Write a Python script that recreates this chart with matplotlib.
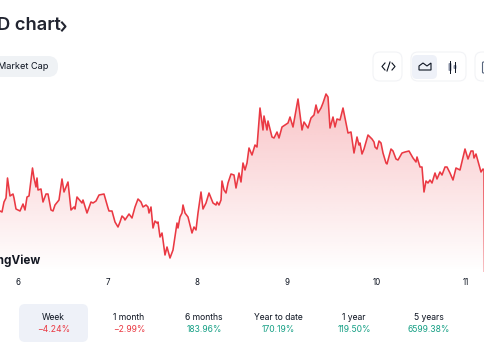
import numpy as np
import matplotlib.pyplot as plt
from matplotlib.patches import FancyBboxPatch, Polygon

plt.rcParams['font.family'] = ['Inter', 'DejaVu Sans']

# price curve: time step, price (relative to chart floor)
steps = [0, 2, 4, 6, 7.5, 10, 13, 14, 16, 20, 23, 25, 27, 29, 32.5, 34, 36, 37, 38, 41, 43, 46, 48, 51, 53, 55, 59,
         62, 64, 68, 71, 74, 75, 77, 82, 83, 86, 87, 91, 93, 96, 99, 104, 108, 109, 112, 115, 118, 120, 122, 124,
         125, 129, 132, 135, 138, 141, 143, 146, 148, 149, 151, 153, 155, 157, 158, 160, 162, 163, 165, 167, 170,
         173, 177, 178, 180, 182, 183, 185, 188, 192, 194, 196, 198, 201, 203, 206, 209, 213, 216, 217, 219, 221,
         222, 224, 226, 228, 231, 234, 236, 239, 241, 243, 245, 247, 249, 252, 255, 257, 260, 263, 264, 267, 268,
         272, 274, 277, 279, 282, 285, 288, 290, 293, 298, 302, 304, 308, 311, 314, 316, 318, 321, 323, 326, 328,
         330, 333, 335, 337, 340, 343, 345, 348, 351, 354, 357, 359, 360, 362, 364, 368, 372, 374, 375, 377, 379,
         381, 383, 386, 387, 391, 393, 396, 398, 402, 405, 409, 413, 416, 417, 420, 422, 424, 426, 428, 430, 432,
         435, 437, 440, 442, 445, 447, 450, 453, 456, 460, 465, 468, 471, 473, 474, 476, 481, 483, 484, 484.5]
price = [61, 60, 70, 74, 94, 76, 78, 74, 63, 61, 68, 62, 75, 76, 104, 94, 85, 94, 82, 83, 70, 78, 78, 62, 61, 67, 72,
         93, 80, 90, 62, 65, 63, 75, 69, 72, 62, 59, 70, 69, 71, 77, 78, 64, 61, 61, 50, 45, 50, 56, 54,
         52, 58, 54, 65, 73, 70, 65, 67, 65, 59, 65, 44, 51, 49, 50, 35, 39, 32, 17, 25, 14,
         22, 49, 44, 55, 59, 67, 59, 55, 39, 45, 42, 59, 80, 63, 69, 79, 69, 67, 70, 67, 72,
         91, 82, 79, 89, 98, 97, 84, 99, 90, 109, 102, 109, 124, 117, 127, 125, 164, 142, 156, 142, 151,
         135, 134, 140, 134, 145, 147, 149, 155, 145, 173, 142, 150, 144, 154, 157, 167, 159, 164, 169, 178, 175,
         144, 155, 145, 153, 152, 164, 154, 139, 140, 119, 135, 127, 129, 118, 123, 137, 133, 130, 125, 123, 131,
         129, 119, 109, 108, 123, 121, 113, 112, 119, 120, 121, 114, 110, 115, 105, 105, 80, 91, 89, 92, 89,
         99, 93, 100, 97, 105, 105, 99, 92, 104, 102, 123, 113, 121, 121, 114, 118, 100, 103, 102, 0]

day_steps = [18.5, 108, 197.5, 287, 377, 466]
day_labels = ['6', '7', '8', '9', '10', '11']

period_names = ['Week', '1 month', '6 months', 'Year to date', '1 year', '5 years']
period_changes = ['−4.24%', '−2.99%', '183.96%', '170.19%', '119.50%', '6599.38%']
period_up = [False, False, True, True, True, True]
period_x = [53.5, 129, 204, 278, 354, 429]

red = '#ea3943'
green = '#16a085'
dark = '#0d1421'
pill = '#eff2f5'
pale = '#eef1f8'
border = '#f2f3f6'

fig = plt.figure(figsize=(4.85, 3.6), dpi=100)

# page furniture, in image pixels
ui = fig.add_axes([0, 0, 1, 1])
ui.set_xlim(0, 485)
ui.set_ylim(360, 0)
ui.axis('off')


def box(x0, y0, x1, y1, r, face, edge='none'):
    ui.add_patch(FancyBboxPatch((x0 + r, y0 + r), x1 - x0 - 2 * r, y1 - y0 - 2 * r,
                                boxstyle='round,pad=%g,rounding_size=%g' % (r, r),
                                facecolor=face, edgecolor=edge, linewidth=0.8))


ui.text(-3, 26, 'D chart', fontsize=13.2, fontweight='semibold', color='#222531', va='center')
ui.plot([62, 65.5, 62], [22.5, 26.5, 30.5], color='#222531', lw=1.5)

box(-20, 56, 58, 77, 10, pill)
ui.text(-2, 66.5, 'Market Cap', fontsize=6.6, color=dark, va='center')

box(373, 52, 402, 81, 7, 'white', border)
box(411, 52, 466, 81, 7, 'white', border)
box(475, 52, 500, 81, 7, 'white', border)
box(412, 55, 437, 79, 5, pale)

# code icon
ui.plot([385, 382, 385], [63, 66.5, 70], color=dark, lw=0.8)
ui.plot([392, 395, 392], [63, 66.5, 70], color=dark, lw=0.8)
ui.plot([387, 390], [71, 62], color=dark, lw=0.8)
# area icon
ui.add_patch(Polygon([(419, 70), (419, 66), (423, 63), (427, 66), (431, 63), (431, 70)],
                     closed=True, facecolor='none', edgecolor=dark, linewidth=0.8))
# candle icon
ui.plot([450, 450], [61, 73], color=dark, lw=0.7)
ui.plot([455, 455], [62, 72], color=dark, lw=0.7)
box(448.5, 63, 451.5, 71, 1, '#8a92a6')
box(453.5, 65, 456.5, 69, 1, '#8a92a6')
box(482.5, 62, 490, 73, 1, 'white', '#58667e')

box(19, 304, 88, 342, 6, pale)
for x, name, change, up in zip(period_x, period_names, period_changes, period_up):
    ui.text(x, 317, name, fontsize=6.2, color=dark, ha='center', va='center')
    ui.text(x, 329, change, fontsize=6.2, color=green if up else red, ha='center', va='center')

# chart
ax = fig.add_axes([0, (360 - 272) / 360, 1, 182 / 360])
ax.patch.set_alpha(0)
for s in ax.spines.values():
    s.set_visible(False)

rgba = np.ones((256, 1, 4))
rgba[:, :, :3] = plt.matplotlib.colors.to_rgb(red)
rgba[:, 0, 3] = np.linspace(0.3, 0.0, 256)
im = ax.imshow(rgba, extent=(0, 485, 0, 178), aspect='auto', origin='upper', zorder=1)
shape = ax.fill_between(steps, 0, price, color='none')
im.set_clip_path(shape.get_paths()[0], transform=ax.transData)
ax.plot(steps, price, color=red, lw=1.15, zorder=3)

ax.set_xlim(0, 485)
ax.set_ylim(0, 182)
ax.set_yticks([])
ax.set_xticks(day_steps)
ax.set_xticklabels(day_labels, fontsize=5.8, color=dark)
ax.tick_params(axis='x', length=0, pad=4.5)

ax.text(41, 11, 'TradingView', fontsize=8.4, fontweight='bold', color='#131722', ha='right', va='center')

fig.savefig('out.png', dpi=100)
